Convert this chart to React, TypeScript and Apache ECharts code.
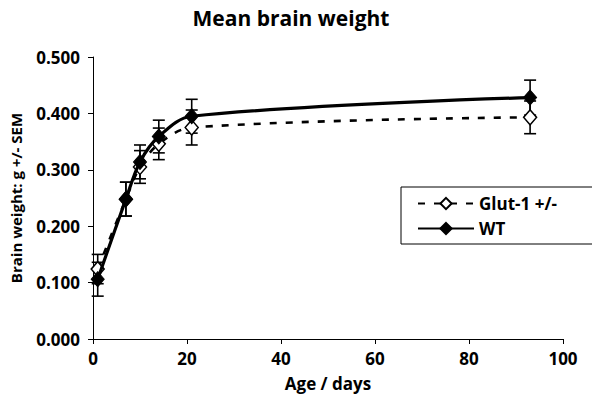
import React, { useEffect, useRef } from "react";
import * as echarts from "echarts";

const days = [1, 7, 10, 14, 21, 93];
const wtMean = [0.106, 0.248, 0.314, 0.359, 0.395, 0.428];
const wtSem = [0.030, 0.030, 0.030, 0.029, 0.030, 0.031];
const glutMean = [0.124, 0.248, 0.305, 0.346, 0.375, 0.393];
const glutSem = [0.026, 0.030, 0.029, 0.028, 0.031, 0.029];
const starDays = [21, 93];
const seriesNames = ["Glut-1 +/-", "WT"];
const FONT = "'Open Sans', 'DejaVu Sans', sans-serif";

function errData(mean: number[], sem: number[]) {
  return days.map((d, i) => [d, mean[i] - sem[i], mean[i] + sem[i]]);
}

function errRender(params: any, api: any) {
  const x = api.value(0);
  const lo = api.coord([x, api.value(1)]);
  const hi = api.coord([x, api.value(2)]);
  const half = 6;
  const style = { stroke: "#000", lineWidth: 1.6, fill: "none" };
  return {
    type: "group",
    children: [
      { type: "line", shape: { x1: lo[0], y1: lo[1], x2: hi[0], y2: hi[1] }, style },
      { type: "line", shape: { x1: lo[0] - half, y1: lo[1], x2: lo[0] + half, y2: lo[1] }, style },
      { type: "line", shape: { x1: hi[0] - half, y1: hi[1], x2: hi[0] + half, y2: hi[1] }, style },
    ],
  };
}

export default function App() {
  const ref = useRef<HTMLDivElement>(null);
  useEffect(() => {
    if (!ref.current) return;
    const chart = echarts.init(ref.current, null, { renderer: "svg" });
    const starData = starDays.map((d) => {
      const i = days.indexOf(d);
      return [d, wtMean[i] + wtSem[i]];
    });
    chart.setOption({
      animation: false,
      backgroundColor: "#fff",
      title: {
        text: "Mean brain weight",
        left: 286,
        top: 2,
        textAlign: "center",
        textStyle: { fontFamily: FONT, fontWeight: "bold", fontSize: 21, color: "#000" },
      },
      grid: { left: 93, right: 37, top: 57, bottom: 65, containLabel: false },
      legend: {
        orient: "vertical",
        left: 401,
        top: 187,
        width: 173,
        data: seriesNames,
        borderColor: "#000",
        borderWidth: 1,
        padding: [8, 60, 7, 16],
        itemWidth: 56,
        itemHeight: 14,
        itemGap: 8,
        textStyle: { fontFamily: FONT, fontWeight: "bold", fontSize: 17, color: "#000" },
      },
      xAxis: {
        type: "value",
        min: 0,
        max: 100,
        interval: 20,
        name: "Age / days",
        nameLocation: "middle",
        nameGap: 36,
        nameTextStyle: { fontFamily: FONT, fontWeight: "bold", fontSize: 17, color: "#000" },
        axisLine: { lineStyle: { color: "#000", width: 1 } },
        axisTick: { show: true, length: 5, inside: false, lineStyle: { color: "#000" } },
        axisLabel: { fontFamily: FONT, fontWeight: "bold", fontSize: 17, color: "#000", margin: 11 },
        splitLine: { show: false },
      },
      yAxis: {
        type: "value",
        min: 0,
        max: 0.5,
        interval: 0.1,
        name: "Brain weight: g +/- SEM",
        nameLocation: "middle",
        nameGap: 70,
        nameTextStyle: { fontFamily: FONT, fontWeight: "bold", fontSize: 15, color: "#000" },
        axisLine: { show: true, lineStyle: { color: "#000", width: 1 } },
        axisTick: { show: true, length: 5, inside: false, lineStyle: { color: "#000" } },
        axisLabel: {
          fontFamily: FONT,
          fontWeight: "bold",
          fontSize: 17,
          color: "#000",
          margin: 13,
          formatter: (v: number) => v.toFixed(3),
        },
        splitLine: { show: false },
      },
      series: [
        {
          name: "glutErr",
          type: "custom",
          renderItem: errRender,
          data: errData(glutMean, glutSem),
          encode: { x: 0, y: [1, 2] },
          z: 1,
          silent: true,
        },
        {
          name: "wtErr",
          type: "custom",
          renderItem: errRender,
          data: errData(wtMean, wtSem),
          encode: { x: 0, y: [1, 2] },
          z: 1,
          silent: true,
        },
        {
          name: seriesNames[0],
          type: "line",
          smooth: 0.35,
          data: days.map((d, i) => [d, glutMean[i]]),
          symbol: "diamond",
          symbolSize: [13, 15],
          showAllSymbol: true,
          lineStyle: { color: "#000", width: 2.6, type: [7, 9] },
          itemStyle: { color: "#fff", borderColor: "#000", borderWidth: 1.5 },
          z: 3,
        },
        {
          name: seriesNames[1],
          type: "line",
          smooth: 0.35,
          data: days.map((d, i) => [d, wtMean[i]]),
          symbol: "diamond",
          symbolSize: [13, 15],
          showAllSymbol: true,
          lineStyle: { color: "#000", width: 3.2 },
          itemStyle: { color: "#000", borderColor: "#000", borderWidth: 1 },
          z: 4,
        },
        {
          name: "stars",
          type: "scatter",
          data: starData,
          symbol: "none",
          silent: true,
          label: {
            show: true,
            position: "top",
            distance: 4,
            formatter: "*",
            fontFamily: FONT,
            fontWeight: "bold",
            fontSize: 18,
            color: "#000",
          },
          z: 5,
        },
      ],
    });
    return () => chart.dispose();
  }, []);
  return <div ref={ref} style={{ width: 600, height: 404, margin: -8 }} />;
}
